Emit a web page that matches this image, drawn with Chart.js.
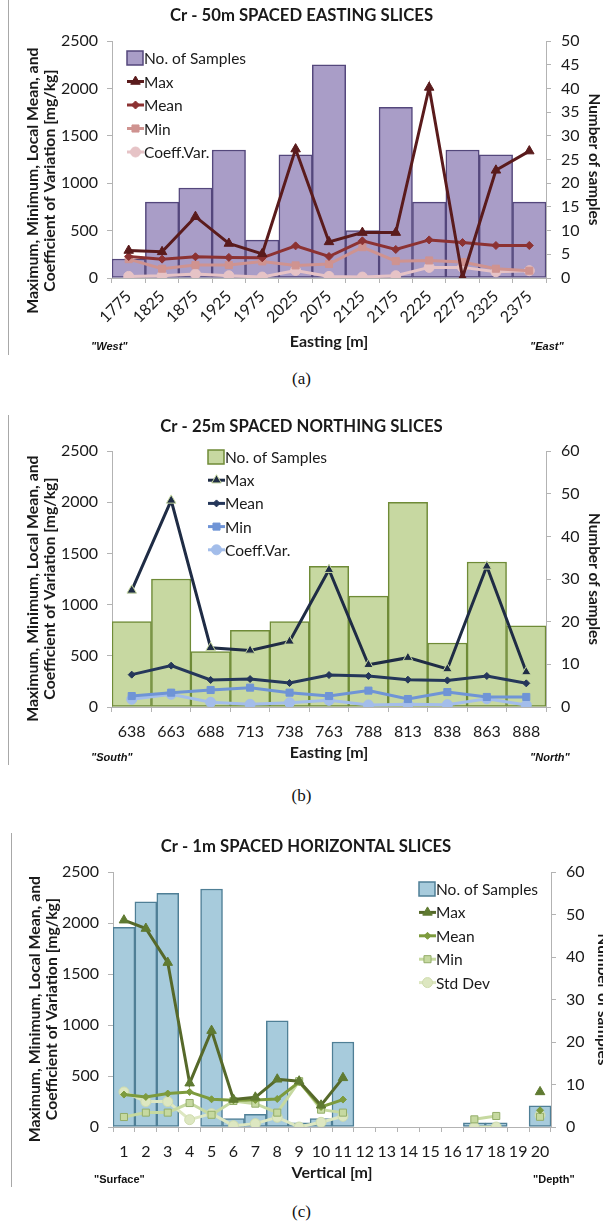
<!DOCTYPE html>
<html>
<head>
<meta charset="utf-8">
<script src="https://cdn.jsdelivr.net/npm/chart.js@4.4.1/dist/chart.umd.min.js"></script>
<style>
  html, body { margin:0; padding:0; background:#fff; }
  body { width:603px; height:1222px; overflow:hidden; position:relative; }
  canvas { position:absolute; left:0; }
  .vline { position:absolute; width:1px; background:#a8a8a8; }
  .side { position:absolute; font-family:"Liberation Sans", Arial, sans-serif; font-weight:bold; font-size:11px; color:#111; white-space:nowrap; }
  .it { font-style:italic; }
  .cap { position:absolute; width:603px; text-align:center; font-family:"Liberation Serif", "Times New Roman", serif; font-size:17px; color:#111; }
</style>
</head>
<body>
<div class="vline" style="left:8px;top:0;height:355px"></div>
<div class="vline" style="left:8px;top:415px;height:350px"></div>
<div class="vline" style="left:11px;top:833px;height:354px"></div>

<canvas id="ca" width="603" height="360" style="top:0"></canvas>
<canvas id="cb" width="603" height="365" style="top:405px"></canvas>
<canvas id="cc" width="612" height="365" style="top:825px"></canvas>

<div class="side it" style="left:91px;top:340px">"West"</div>
<div class="side it" style="left:530px;top:340px">"East"</div>
<div class="cap" style="top:369px">(a)</div>

<div class="side it" style="left:91px;top:751px">"South"</div>
<div class="side it" style="left:530px;top:751px">"North"</div>
<div class="cap" style="top:786px">(b)</div>

<div class="side" style="left:94px;top:1173px">"Surface"</div>
<div class="side" style="left:533px;top:1173px">"Depth"</div>
<div class="cap" style="top:1202px">(c)</div>

<script>
// ---------- (a) 50m spaced easting slices ----------
const aLabels  = ['1775','1825','1875','1925','1975','2025','2075','2125','2175','2225','2275','2325','2375'];
const aSamples = [4, 16, 19, 27, 8, 26, 45, 10, 36, 16, 27, 26, 16];
const aMax     = [290, 276, 647, 364, 255, 1360, 381, 479, 479, 2010, 5, 1136, 1339];
const aMean    = [227, 199, 224, 217, 213, 339, 227, 392, 301, 402, 374, 343, 343];
const aMin     = [199, 98, 136, 136, 175, 133, 147, 325, 178, 185, 168, 98, 77];
const aCV      = [17, 24, 42, 24, 10, 80, 17, 10, 24, 112, 112, 66, 77];

// ---------- (b) 25m spaced northing slices ----------
const bLabels  = ['638','663','688','713','738','763','788','813','838','863','888'];
const bSamples = [20, 30, 13, 18, 20, 33, 26, 48, 15, 34, 19];
const bMax     = [1139, 2018, 579, 553, 641, 1341, 413, 482, 371, 1374, 342];
const bMean    = [316, 404, 264, 273, 234, 312, 303, 267, 260, 303, 231];
const bMin     = [107, 140, 166, 189, 140, 107, 160, 78, 146, 98, 98];
const bCV      = [75, 124, 46, 26, 42, 65, 20, 26, 23, 81, 20];

// ---------- (c) 1m spaced horizontal slices ----------
const cLabels  = ['1','2','3','4','5','6','7','8','9','10','11','12','13','14','15','16','17','18','19','20'];
const cSamples = [47, 53, 55, null, 56, 2, 3, 25, 1, 2, 20, null, null, null, null, null, 1, 1, null, 5];
const cMax     = [2028, 1946, 1612, 430, 945, 270, 291, 468, 449, 213, 482, null, null, null, null, null, null, null, null, 344];
const cMean    = [318, 295, 328, 344, 272, 262, 265, 275, 440, 197, 269, null, null, null, null, null, null, null, null, 164];
const cMin     = [98, 141, 141, 235, 120, 255, 229, 141, 449, 170, 141, null, null, null, null, null, 75, 108, null, 100];
const cStd     = [344, 249, 249, 72, 131, 13, 33, 95, 0, 46, 105, null, null, null, null, null, 0, 0, null, 115];

const leftTitleLines = ['Maximum, Minimum, Local Mean, and', 'Coefficient of Variation [mg/kg]'];

Chart.defaults.font.family = 'Lato, "Open Sans", sans-serif';
Chart.defaults.color = '#1a1a1a';

const insideLegend = {
  id: 'insideLegend',
  afterDatasetsDraw(chart, args, opts) {
    const ctx = chart.ctx;
    ctx.save();
    ctx.font = opts.font;
    ctx.textBaseline = 'middle';
    ctx.textAlign = 'left';
    chart.data.datasets.forEach((ds, i) => {
      const y = opts.y + i * opts.gap;
      const x = opts.x;
      if (ds.type === 'line') {
        ctx.strokeStyle = ds.borderColor;
        ctx.lineWidth = ds.borderWidth;
        ctx.beginPath(); ctx.moveTo(x, y); ctx.lineTo(x + 17, y); ctx.stroke();
        ctx.fillStyle = ds.pointBackgroundColor;
        ctx.strokeStyle = ds.pointBorderColor;
        ctx.lineWidth = 1;
        Chart.helpers.drawPoint(ctx, {pointStyle: ds.pointStyle, rotation: 0, radius: ds.pointRadius, borderWidth: 1}, x + 8.5, y);
      } else {
        ctx.fillStyle = ds.backgroundColor;
        ctx.strokeStyle = ds.borderColor;
        ctx.lineWidth = 1.5;
        ctx.fillRect(x, y - 7, 16, 14);
        ctx.strokeRect(x, y - 7, 16, 14);
      }
      ctx.fillStyle = '#1a1a1a';
      ctx.fillText(ds.label, x + 17, y + 1);
    });
    ctx.restore();
  }
};

function lineDs(label, data, color, ptColor, ptBorder, style, radius) {
  return {
    type: 'line', label, data, yAxisID: 'y', order: 1,
    borderColor: color, borderWidth: 3, tension: 0, fill: false, spanGaps: false,
    pointStyle: style, pointRadius: radius, pointBackgroundColor: ptColor,
    pointBorderColor: ptBorder, pointBorderWidth: 1
  };
}

function makeChart(id, p) {
  const axisCol = '#b3b3b3';
  const pad = ' '.repeat(p.leftShift);
  return new Chart(document.getElementById(id), {
    type: 'bar',
    data: {
      labels: p.labels,
      datasets: [
        { type: 'bar', label: 'No. of Samples', data: p.samples, yAxisID: 'y2', order: 2,
          backgroundColor: p.barFill, borderColor: p.barBorder, borderWidth: 1.5, borderSkipped: false,
          barPercentage: 1, categoryPercentage: 1 },
        ...p.lines
      ]
    },
    options: {
      responsive: false, animation: false,
      layout: { padding: 0 },
      plugins: {
        legend: { display: false },
        tooltip: { enabled: false },
        title: { display: true, text: p.title, font: { size: 16.7, weight: 'bold', lineHeight: 1.2 }, color: '#1a1a1a',
                 padding: { top: p.titleTop, bottom: p.titleBottom } },
        insideLegend: p.legend
      },
      scales: {
        x: {
          offset: true,
          grid: { offset: true, drawOnChartArea: false, drawTicks: true, tickLength: 5, color: axisCol },
          border: { color: axisCol, width: 1 },
          ticks: { font: { size: 16 }, padding: p.xPad, autoSkip: false, minRotation: p.rot, maxRotation: p.rot, color: '#1a1a1a' },
          title: { display: true, text: p.xTitle, font: { size: 16, weight: 'bold', lineHeight: 1.2 }, padding: { top: 0, bottom: p.xTitleBottom } },
          afterFit(s) { s.height = p.xHeight; }
        },
        y: {
          position: 'left', min: 0, max: 2500,
          grid: { drawOnChartArea: false, tickLength: 5, color: axisCol },
          border: { color: axisCol, width: 1 },
          ticks: { stepSize: 500, font: { size: 16 }, padding: 9, color: '#1a1a1a', callback: v => String(v) },
          title: { display: true, text: leftTitleLines.map(t => t + pad), font: { size: 15.8, weight: 'bold', lineHeight: 1.08 }, padding: { top: p.leftTitlePad, bottom: 0 } },
          afterFit(s) { s.width = p.leftW; }
        },
        y2: {
          position: 'right', min: 0, max: p.rightMax,
          grid: { drawOnChartArea: false, tickLength: 5, color: axisCol },
          border: { color: axisCol, width: 1 },
          ticks: { stepSize: p.rightStep, font: { size: 16 }, padding: 10, color: '#1a1a1a', callback: v => String(v) },
          title: { display: true, text: 'Number of samples', font: { size: 15.3, weight: 'bold', lineHeight: 1.1 }, padding: { top: 1, bottom: 0 } },
          afterFit(s) { s.width = p.rightW; }
        }
      }
    },
    plugins: [insideLegend]
  });
}

makeChart('ca', {
  labels: aLabels, samples: aSamples,
  barFill: '#a99dc7', barBorder: '#54477c',
  lines: [
    lineDs('Max', aMax, '#5a1b1c', '#5a1b1c', '#5a1b1c', 'triangle', 5.5),
    lineDs('Mean', aMean, '#8c3232', '#8c3232', '#8c3232', 'rectRot', 4),
    lineDs('Min', aMin, '#cf9390', '#cf9390', '#cf9390', 'rect', 5),
    lineDs('Coeff.Var.', aCV, '#e6c3c6', '#e6c3c6', '#e6c3c6', 'circle', 5)
  ],
  title: 'Cr - 50m SPACED EASTING SLICES', titleTop: 6, titleBottom: 15,
  xTitle: 'Easting [m]', xTitleBottom: 8.4, xHeight: 82, xPad: 4, rot: 45,
  leftW: 112, rightW: 57, leftTitlePad: 24.5, leftShift: 11, rightMax: 50, rightStep: 5,
  legend: { x: 127, y: 58, gap: 23.5, font: '15.5px Lato' }
});

makeChart('cb', {
  labels: bLabels, samples: bSamples,
  barFill: '#c7d8a1', barBorder: '#6f8b37',
  lines: [
    lineDs('Max', bMax, '#1f2c45', '#1f2c45', '#c7d8a1', 'triangle', 5.5),
    lineDs('Mean', bMean, '#25375a', '#25375a', '#25375a', 'rectRot', 3.5),
    lineDs('Min', bMin, '#6f94d6', '#6f94d6', '#6f94d6', 'rect', 5),
    lineDs('Coeff.Var.', bCV, '#a3bdea', '#a3bdea', '#a3bdea', 'circle', 5)
  ],
  title: 'Cr - 25m SPACED NORTHING SLICES', titleTop: 12, titleBottom: 14,
  xTitle: 'Easting [m]', xTitleBottom: 7.4, xHeight: 63, xPad: 10, rot: 0,
  leftW: 112, rightW: 57, leftTitlePad: 24.5, leftShift: 5, rightMax: 60, rightStep: 10,
  legend: { x: 208, y: 52, gap: 23.2, font: '15.5px Lato' }
});

makeChart('cc', {
  labels: cLabels, samples: cSamples,
  barFill: '#a7cbdc', barBorder: '#4f7f96',
  lines: [
    lineDs('Max', cMax, '#56692a', '#5f7a31', '#5f7a31', 'triangle', 5.5),
    lineDs('Mean', cMean, '#7d9b3d', '#7d9b3d', '#7d9b3d', 'rectRot', 3.5),
    lineDs('Min', cMin, '#c6d9a0', '#c6d9a0', '#93ad69', 'rect', 5),
    lineDs('Std Dev', cStd, '#dde7c1', '#dde7c1', '#cfdcae', 'circle', 5)
  ],
  title: 'Cr - 1m SPACED HORIZONTAL SLICES', titleTop: 12, titleBottom: 15,
  xTitle: 'Vertical [m]', xTitleBottom: 7.4, xHeight: 63, xPad: 10, rot: 0,
  leftW: 113, rightW: 61, leftTitlePad: 26, leftShift: 5, rightMax: 60, rightStep: 10,
  legend: { x: 419, y: 64, gap: 23.4, font: '15.5px Lato' }
});
</script>
</body>
</html>
